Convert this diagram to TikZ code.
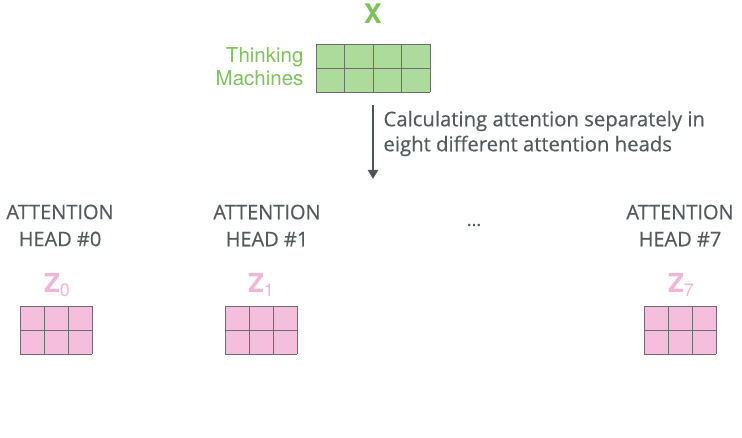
\documentclass[tikz,border=0pt]{standalone}
\usepackage{fontspec}
\setmainfont{Open Sans}
\newfontfamily\heros{TeX Gyre Heros}
\newfontfamily\opensemi{Open Sans}[FakeBold=0.5]
\definecolor{textgray}{HTML}{555A5E}
\definecolor{arrowgray}{HTML}{4F5459}
\definecolor{xgreen}{HTML}{7DC35B}
\definecolor{cellgreen}{HTML}{ADDB9C}
\definecolor{cellpink}{HTML}{F5BEDC}
\definecolor{zpink}{HTML}{F2B5D5}
\definecolor{gridgray}{HTML}{6E6E6E}
\usetikzlibrary{arrows.meta}
\tikzset{
  headlabel/.style={text=textgray,align=center,font=\opensemi\fontsize{20}{27}\selectfont},
  zlabel/.style={text=zpink,font=\heros\bfseries\fontsize{26}{28}\selectfont},
  cellgrid/.style={gridgray,line width=0.9pt}
}
\begin{document}
\begin{tikzpicture}[x=1pt,y=1pt]
\useasboundingbox (0,0) rectangle (742,437);
% Input X
\node[text=xgreen,font=\heros\bfseries\fontsize{27}{30}\selectfont] (xname) at (373,423) {X};
\node[text=xgreen,anchor=east,align=right,font=\heros\fontsize{20.5}{23}\selectfont] (words) at (307,370.5) {Thinking\\Machines};
\fill[cellgreen] (316,345) rectangle (430,393);
\draw[cellgrid,shift={(316,345)},xstep=28.5,ystep=24] (0,0) grid (114,48);
% Arrow and caption
\coordinate (arrtop) at (373,332);
\coordinate (arrbot) at (373,258);
\draw[arrowgray,line width=2.2pt,-{Triangle[length=9pt,width=10pt]}] (arrtop) -- (arrbot);
\node[text=textgray,anchor=west,align=left,font=\opensemi\fontsize{20.3}{25}\selectfont] (caption) at (380,303.5) {Calculating attention separately in\\eight different attention heads};
% Heads
\foreach \xx/\zx/\gx/\nn in {60/57/20/0, 267/261/225/1, 680/681/644/7}{
  \node[headlabel] (head\nn) at (\xx,211.5) {ATTENTION\\HEAD \#\nn};
  \node[zlabel] (z\nn) at (\zx,152) {Z\raisebox{-0.3ex}{\mdseries\fontsize{18}{18}\selectfont\nn}};
  \fill[cellpink] (\gx,83) rectangle ++(72,48);
  \draw[cellgrid,shift={(\gx,83)},step=24] (0,0) grid (72,48);
}
\node[text=textgray,font=\opensemi\fontsize{18}{20}\selectfont] (dots) at (474,212) {...};
\end{tikzpicture}
\end{document}
